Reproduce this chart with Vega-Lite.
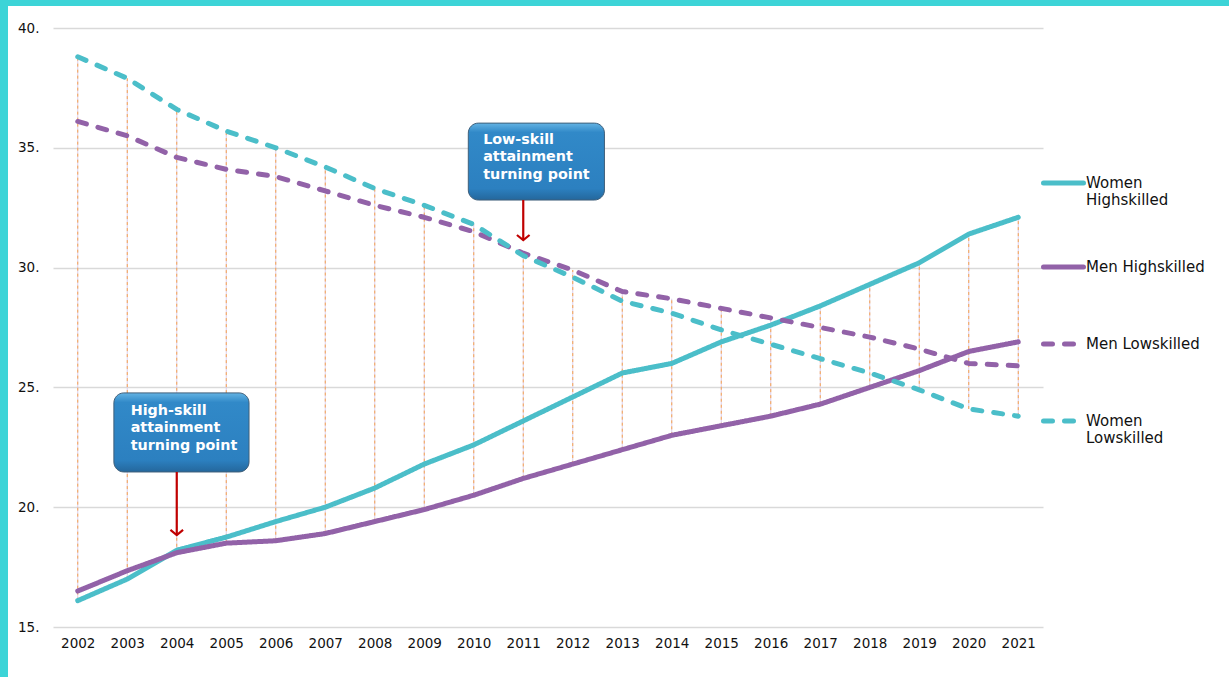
{
  "$schema": "https://vega.github.io/schema/vega-lite/v6.json",
  "width": 1221,
  "height": 671,
  "autosize": {"type": "none"},
  "padding": {"left": 8, "top": 6, "right": 0, "bottom": 0},
  "background": "#3cd4d7",
  "config": {
    "view": {"fill": "white", "stroke": null},
    "font": "DejaVu Sans",
    "axis": {"labelFont": "DejaVu Sans", "labelColor": "#111111"},
    "legend": {"labelFont": "DejaVu Sans", "labelColor": "#111111"}
  },
  "datasets": {
    "shares": [
      {"year": 2002, "series": "Women Highskilled", "value": 16.1},
      {"year": 2003, "series": "Women Highskilled", "value": 17.0},
      {"year": 2004, "series": "Women Highskilled", "value": 18.2},
      {"year": 2005, "series": "Women Highskilled", "value": 18.75},
      {"year": 2006, "series": "Women Highskilled", "value": 19.4},
      {"year": 2007, "series": "Women Highskilled", "value": 20.0},
      {"year": 2008, "series": "Women Highskilled", "value": 20.8},
      {"year": 2009, "series": "Women Highskilled", "value": 21.8},
      {"year": 2010, "series": "Women Highskilled", "value": 22.6},
      {"year": 2011, "series": "Women Highskilled", "value": 23.6},
      {"year": 2012, "series": "Women Highskilled", "value": 24.6},
      {"year": 2013, "series": "Women Highskilled", "value": 25.6},
      {"year": 2014, "series": "Women Highskilled", "value": 26.0},
      {"year": 2015, "series": "Women Highskilled", "value": 26.9},
      {"year": 2016, "series": "Women Highskilled", "value": 27.6},
      {"year": 2017, "series": "Women Highskilled", "value": 28.4},
      {"year": 2018, "series": "Women Highskilled", "value": 29.3},
      {"year": 2019, "series": "Women Highskilled", "value": 30.2},
      {"year": 2020, "series": "Women Highskilled", "value": 31.4},
      {"year": 2021, "series": "Women Highskilled", "value": 32.1},
      {"year": 2002, "series": "Men Highskilled", "value": 16.5},
      {"year": 2003, "series": "Men Highskilled", "value": 17.35},
      {"year": 2004, "series": "Men Highskilled", "value": 18.1},
      {"year": 2005, "series": "Men Highskilled", "value": 18.5},
      {"year": 2006, "series": "Men Highskilled", "value": 18.6},
      {"year": 2007, "series": "Men Highskilled", "value": 18.9},
      {"year": 2008, "series": "Men Highskilled", "value": 19.4},
      {"year": 2009, "series": "Men Highskilled", "value": 19.9},
      {"year": 2010, "series": "Men Highskilled", "value": 20.5},
      {"year": 2011, "series": "Men Highskilled", "value": 21.2},
      {"year": 2012, "series": "Men Highskilled", "value": 21.8},
      {"year": 2013, "series": "Men Highskilled", "value": 22.4},
      {"year": 2014, "series": "Men Highskilled", "value": 23.0},
      {"year": 2015, "series": "Men Highskilled", "value": 23.4},
      {"year": 2016, "series": "Men Highskilled", "value": 23.8},
      {"year": 2017, "series": "Men Highskilled", "value": 24.3},
      {"year": 2018, "series": "Men Highskilled", "value": 25.0},
      {"year": 2019, "series": "Men Highskilled", "value": 25.7},
      {"year": 2020, "series": "Men Highskilled", "value": 26.5},
      {"year": 2021, "series": "Men Highskilled", "value": 26.9},
      {"year": 2002, "series": "Men Lowskilled", "value": 36.1},
      {"year": 2003, "series": "Men Lowskilled", "value": 35.5},
      {"year": 2004, "series": "Men Lowskilled", "value": 34.6},
      {"year": 2005, "series": "Men Lowskilled", "value": 34.1},
      {"year": 2006, "series": "Men Lowskilled", "value": 33.8},
      {"year": 2007, "series": "Men Lowskilled", "value": 33.2},
      {"year": 2008, "series": "Men Lowskilled", "value": 32.6},
      {"year": 2009, "series": "Men Lowskilled", "value": 32.1},
      {"year": 2010, "series": "Men Lowskilled", "value": 31.5},
      {"year": 2011, "series": "Men Lowskilled", "value": 30.6},
      {"year": 2012, "series": "Men Lowskilled", "value": 29.9},
      {"year": 2013, "series": "Men Lowskilled", "value": 29.0},
      {"year": 2014, "series": "Men Lowskilled", "value": 28.7},
      {"year": 2015, "series": "Men Lowskilled", "value": 28.3},
      {"year": 2016, "series": "Men Lowskilled", "value": 27.9},
      {"year": 2017, "series": "Men Lowskilled", "value": 27.5},
      {"year": 2018, "series": "Men Lowskilled", "value": 27.1},
      {"year": 2019, "series": "Men Lowskilled", "value": 26.6},
      {"year": 2020, "series": "Men Lowskilled", "value": 26.0},
      {"year": 2021, "series": "Men Lowskilled", "value": 25.9},
      {"year": 2002, "series": "Women Lowskilled", "value": 38.8},
      {"year": 2003, "series": "Women Lowskilled", "value": 37.9},
      {"year": 2004, "series": "Women Lowskilled", "value": 36.6},
      {"year": 2005, "series": "Women Lowskilled", "value": 35.7},
      {"year": 2006, "series": "Women Lowskilled", "value": 35.0},
      {"year": 2007, "series": "Women Lowskilled", "value": 34.2},
      {"year": 2008, "series": "Women Lowskilled", "value": 33.3},
      {"year": 2009, "series": "Women Lowskilled", "value": 32.6},
      {"year": 2010, "series": "Women Lowskilled", "value": 31.8},
      {"year": 2011, "series": "Women Lowskilled", "value": 30.5},
      {"year": 2012, "series": "Women Lowskilled", "value": 29.6},
      {"year": 2013, "series": "Women Lowskilled", "value": 28.6},
      {"year": 2014, "series": "Women Lowskilled", "value": 28.1},
      {"year": 2015, "series": "Women Lowskilled", "value": 27.4},
      {"year": 2016, "series": "Women Lowskilled", "value": 26.8},
      {"year": 2017, "series": "Women Lowskilled", "value": 26.2},
      {"year": 2018, "series": "Women Lowskilled", "value": 25.6},
      {"year": 2019, "series": "Women Lowskilled", "value": 24.9},
      {"year": 2020, "series": "Women Lowskilled", "value": 24.1},
      {"year": 2021, "series": "Women Lowskilled", "value": 23.8}
    ],
    "notes": [
      {"label": "Low-skill\nattainment\nturning point", "x0": 2009.89, "x1": 2012.64, "y0": 36.03, "y1": 32.82, "tx": 2010.19, "ty": 35.62, "ax": 2011, "ay0": 32.82, "ay1": 31.15},
      {"label": "High-skill\nattainment\nturning point", "x0": 2002.73, "x1": 2005.46, "y0": 24.77, "y1": 21.47, "tx": 2003.07, "ty": 24.31, "ax": 2004, "ay0": 21.47, "ay1": 18.84}
    ]
  },
  "layer": [
    {
      "data": {"name": "shares"},
      "mark": {"type": "rule", "color": "#dccdea", "strokeWidth": 1},
      "encoding": {
        "x": {
          "field": "year", "type": "quantitative", "title": null,
          "scale": {"domain": [2001.5, 2021.5], "range": [45, 1035], "nice": false, "zero": false},
          "axis": {
            "title": null, "values": [2002, 2003, 2004, 2005, 2006, 2007, 2008, 2009, 2010, 2011, 2012, 2013, 2014, 2015, 2016, 2017, 2018, 2019, 2020, 2021],
            "format": "d", "grid": false, "domain": false, "ticks": false,
            "offset": -50, "labelPadding": 9, "labelFontSize": 13.5, "labelFlush": false, "labelOverlap": false
          }
        },
        "y": {
          "aggregate": "min", "field": "value", "type": "quantitative", "title": null,
          "scale": {"domain": [15, 40], "range": [621, 22], "nice": false, "zero": false},
          "axis": {
            "title": null, "values": [15, 20, 25, 30, 35, 40], "labelExpr": "datum.value + '.'",
            "grid": true, "gridColor": "#d9d9d9", "gridWidth": 1.5, "domain": false, "ticks": false,
            "offset": -35, "labelPadding": 4, "labelFontSize": 13.5
          }
        },
        "y2": {"aggregate": "max", "field": "value"}
      }
    },
    {
      "data": {"name": "shares"},
      "mark": {"type": "rule", "color": "#f6a24e", "strokeWidth": 1, "strokeDash": [3, 3]},
      "encoding": {
        "x": {"field": "year", "type": "quantitative", "title": null},
        "y": {"aggregate": "min", "field": "value", "type": "quantitative", "title": null},
        "y2": {"aggregate": "max", "field": "value"}
      }
    },
    {
      "data": {"name": "shares"},
      "mark": {"type": "line", "strokeWidth": 5, "strokeCap": "round", "strokeJoin": "round"},
      "encoding": {
        "x": {"field": "year", "type": "quantitative", "title": null},
        "y": {"field": "value", "type": "quantitative", "title": null},
        "color": {
          "field": "series", "type": "nominal",
          "scale": {"domain": ["Women Highskilled", "Men Highskilled", "Men Lowskilled", "Women Lowskilled"], "range": ["#4bbec9", "#9262a8", "#9262a8", "#4bbec9"]},
          "legend": {
            "title": null, "orient": "none", "legendX": 1033, "legendY": 159,
            "symbolType": "stroke", "symbolSize": 1600, "symbolStrokeWidth": 5,
            "labelFontSize": 15, "labelOffset": 0, "rowPadding": 41, "clipHeight": 36, "padding": 0,
            "labelExpr": "indexof(datum.label, 'Women') == 0 ? split(datum.label, ' ') : datum.label",
            "encode": {"symbols": {"update": {
              "strokeCap": {"value": "round"},
              "strokeDash": {"signal": "indexof(datum.value, 'Lowskilled') > 0 ? [10, 11, 10, 30] : [1, 0]"}
            }}}
          }
        },
        "strokeDash": {
          "field": "series", "type": "nominal",
          "scale": {"domain": ["Women Highskilled", "Men Highskilled", "Men Lowskilled", "Women Lowskilled"], "range": [[1, 0], [1, 0], [9, 12], [9, 12]]},
          "legend": {
            "title": null, "orient": "none", "legendX": 1033, "legendY": 159,
            "symbolType": "stroke", "symbolSize": 1600, "symbolStrokeWidth": 5,
            "labelFontSize": 15, "labelOffset": 0, "rowPadding": 41, "clipHeight": 36, "padding": 0,
            "labelExpr": "indexof(datum.label, 'Women') == 0 ? split(datum.label, ' ') : datum.label",
            "encode": {"symbols": {"update": {
              "strokeCap": {"value": "round"},
              "strokeDash": {"signal": "indexof(datum.value, 'Lowskilled') > 0 ? [10, 11, 10, 30] : [1, 0]"}
            }}}
          }
        }
      }
    },
    {
      "data": {"name": "notes"},
      "mark": {"type": "rect", "cornerRadius": 10, "fill": "#6f6f6f", "opacity": 0.45, "xOffset": 2, "yOffset": 3},
      "encoding": {
        "x": {"field": "x0", "type": "quantitative", "title": null},
        "x2": {"field": "x1"},
        "y": {"field": "y0", "type": "quantitative", "title": null},
        "y2": {"field": "y1"}
      }
    },
    {
      "data": {"name": "notes"},
      "mark": {
        "type": "rect", "cornerRadius": 10, "stroke": "#3f5f7a", "strokeWidth": 1,
        "fill": {"gradient": "linear", "x1": 0, "y1": 0, "x2": 0, "y2": 1,
          "stops": [{"offset": 0, "color": "#63b3e3"}, {"offset": 0.12, "color": "#3189c8"}, {"offset": 0.85, "color": "#2c80c0"}, {"offset": 1, "color": "#24679c"}]}
      },
      "encoding": {
        "x": {"field": "x0", "type": "quantitative", "title": null},
        "x2": {"field": "x1"},
        "y": {"field": "y0", "type": "quantitative", "title": null},
        "y2": {"field": "y1"}
      }
    },
    {
      "data": {"name": "notes"},
      "mark": {"type": "text", "align": "left", "baseline": "top", "lineBreak": "\n", "lineHeight": 17.5, "fontSize": 14.3, "fontWeight": "bold", "color": "white"},
      "encoding": {
        "x": {"field": "tx", "type": "quantitative", "title": null},
        "y": {"field": "ty", "type": "quantitative", "title": null},
        "text": {"field": "label", "type": "nominal"}
      }
    },
    {
      "data": {"name": "notes"},
      "mark": {"type": "rule", "color": "#c00000", "strokeWidth": 2.2},
      "encoding": {
        "x": {"field": "ax", "type": "quantitative", "title": null},
        "y": {"field": "ay0", "type": "quantitative", "title": null},
        "y2": {"field": "ay1"}
      }
    },
    {
      "data": {"name": "notes"},
      "mark": {"type": "point", "shape": "M-1,-0.8L0,0L1,-0.8", "filled": false, "stroke": "#c00000", "strokeWidth": 2.2, "size": 160, "opacity": 1},
      "encoding": {
        "x": {"field": "ax", "type": "quantitative", "title": null},
        "y": {"field": "ay1", "type": "quantitative", "title": null}
      }
    }
  ]
}
